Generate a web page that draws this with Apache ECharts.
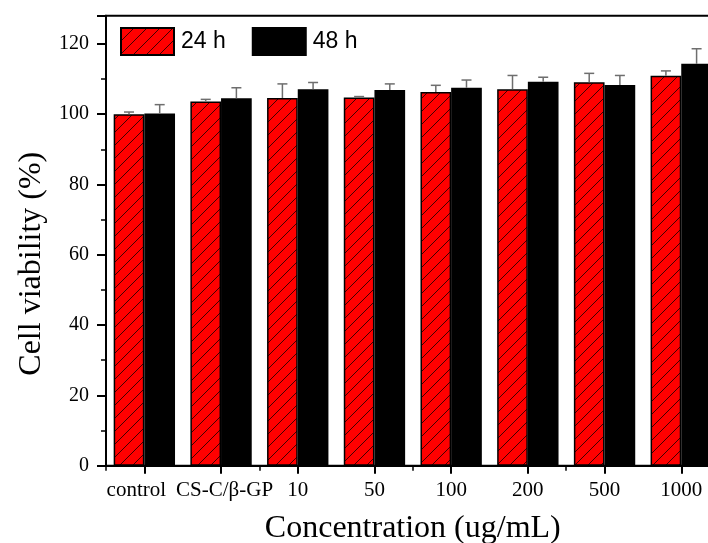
<!DOCTYPE html>
<html>
<head>
<meta charset="utf-8">
<script src="https://cdn.jsdelivr.net/npm/echarts@6/dist/echarts.min.js"></script>
<style>
html,body{margin:0;padding:0;background:#fff;}
#chart{width:708px;height:543px;}
</style>
</head>
<body>
<div id="chart"></div>
<script>
const categories = ['control', 'CS-C/\u03B2-GP', '10', '50', '100', '200', '500', '1000'];
const seriesNames = ['24 h', '48 h'];
const values24 = [100.0, 103.6, 104.6, 104.7, 106.3, 107.1, 109.1, 110.9];
const errors24 = [0.6, 0.6, 4.0, 0.3, 1.9, 3.9, 2.5, 1.4];
const values48 = [100.2, 104.5, 107.1, 106.9, 107.5, 109.2, 108.3, 114.3];
const errors48 = [2.5, 3.0, 1.9, 1.7, 2.2, 1.3, 2.7, 4.3];
const yTicks = [0, 20, 40, 60, 80, 100, 120];

// label paddings (styling only) to nudge the first labels as in the original
const labelPad = { 'control': [0, 16, 0, 0], 'CS-C/\u03B2-GP': [0, 0, 0, 7] };

function hatch() {
  const s = 13;
  const c = document.createElement('canvas');
  c.width = s; c.height = s;
  const ctx = c.getContext('2d');
  ctx.fillStyle = '#ff0000';
  ctx.fillRect(0, 0, s, s);
  ctx.strokeStyle = '#2a0000';
  ctx.lineWidth = 0.9;
  ctx.beginPath();
  ctx.moveTo(-2, s + 2); ctx.lineTo(s + 2, -2);
  ctx.moveTo(-2, 2); ctx.lineTo(2, -2);
  ctx.moveTo(s - 2, s + 2); ctx.lineTo(s + 2, s - 2);
  ctx.stroke();
  return c;
}
const redPattern = { image: hatch(), repeat: 'repeat' };

const chart = echarts.init(document.getElementById('chart'), null, { renderer: 'canvas' });

function errData(vals, errs) {
  return vals.map((v, i) => [i, v, errs[i]]);
}
function errRender(side) {
  return function (params, api) {
    const idx = api.value(0);
    const v = api.value(1);
    const e = api.value(2);
    const band = api.size([1, 0])[0];
    const bw = band * 0.8 / 2;
    const base = api.coord([idx, v]);
    const top = api.coord([idx, v + e]);
    const x = base[0] + side * bw / 2;
    const cap = 5;
    const style = { stroke: '#6e6e6e', lineWidth: 1.5, fill: null };
    return {
      type: 'group',
      children: [
        { type: 'line', shape: { x1: x, y1: base[1], x2: x, y2: top[1] }, style: style },
        { type: 'line', shape: { x1: x - cap, y1: top[1], x2: x + cap, y2: top[1] }, style: style }
      ]
    };
  };
}

const serif = '"Liberation Serif", "Times New Roman", serif';
const xCatData = categories.map(c => labelPad[c] ? { value: c, textStyle: { padding: labelPad[c] } } : c);

chart.setOption({
  animation: false,
  backgroundColor: '#ffffff',
  grid: {
    left: 106, top: 15.7, width: 613.6, height: 450,
    outerBoundsMode: 'none',
    show: true, borderColor: '#000', borderWidth: 2, containLabel: false
  },
  legend: {
    left: 115, top: 22,
    itemWidth: 53, itemHeight: 27, itemGap: 26,
    icon: 'rect',
    data: seriesNames,
    textStyle: { fontFamily: '"Liberation Sans", Arial, sans-serif', fontSize: 23, color: '#000', padding: [0, 0, 0, 2] }
  },
  xAxis: [
    {
      type: 'category', data: xCatData, position: 'bottom',
      boundaryGap: true,
      axisLine: { show: true, lineStyle: { color: '#000', width: 2 } },
      axisTick: { show: true, alignWithLabel: true, length: 8, lineStyle: { color: '#000', width: 2 } },
      axisLabel: { fontFamily: serif, fontSize: 21, color: '#000', margin: 14, interval: 0, hideOverlap: false },
      name: 'Concentration (ug/mL)', nameLocation: 'middle', nameGap: 47,
      nameTextStyle: { fontFamily: serif, fontSize: 32, color: '#000' }
    },
    {
      type: 'category', data: categories, position: 'bottom',
      boundaryGap: true,
      axisLine: { show: false },
      axisTick: { show: true, alignWithLabel: false, length: 5, lineStyle: { color: '#000', width: 1.5 } },
      axisLabel: { show: false }
    }
  ],
  yAxis: {
    type: 'value', min: 0, max: 128, interval: 20,
    axisLine: { show: true, lineStyle: { color: '#000', width: 2 } },
    axisTick: { show: true, length: 9, lineStyle: { color: '#000', width: 2 } },
    minorTick: { show: true, splitNumber: 2, length: 5, lineStyle: { color: '#000', width: 1.5 } },
    splitLine: { show: false },
    axisLabel: {
      fontFamily: serif, fontSize: 20, color: '#000', margin: 17,
      formatter: function (v) { return yTicks.indexOf(v) >= 0 ? String(v) : ''; }
    },
    name: 'Cell viability (%)', nameLocation: 'middle', nameGap: 58,
    nameTextStyle: { fontFamily: serif, fontSize: 32, color: '#000', padding: [0, 46, 0, 0] }
  },
  series: [
    {
      name: seriesNames[0], type: 'bar', xAxisIndex: 0,
      data: values24, barGap: '0%', barCategoryGap: '20%',
      itemStyle: { color: redPattern, borderColor: '#000', borderWidth: 1.5 }
    },
    {
      name: seriesNames[1], type: 'bar', xAxisIndex: 0,
      data: values48, barGap: '0%', barCategoryGap: '20%',
      itemStyle: { color: '#000', borderColor: '#000', borderWidth: 1.5 }
    },
    {
      type: 'custom', xAxisIndex: 0, z: 5,
      renderItem: errRender(-1), data: errData(values24, errors24),
      encode: { x: 0, y: 1 }
    },
    {
      type: 'custom', xAxisIndex: 0, z: 5,
      renderItem: errRender(1), data: errData(values48, errors48),
      encode: { x: 0, y: 1 }
    }
  ]
});
</script>
</body>
</html>
